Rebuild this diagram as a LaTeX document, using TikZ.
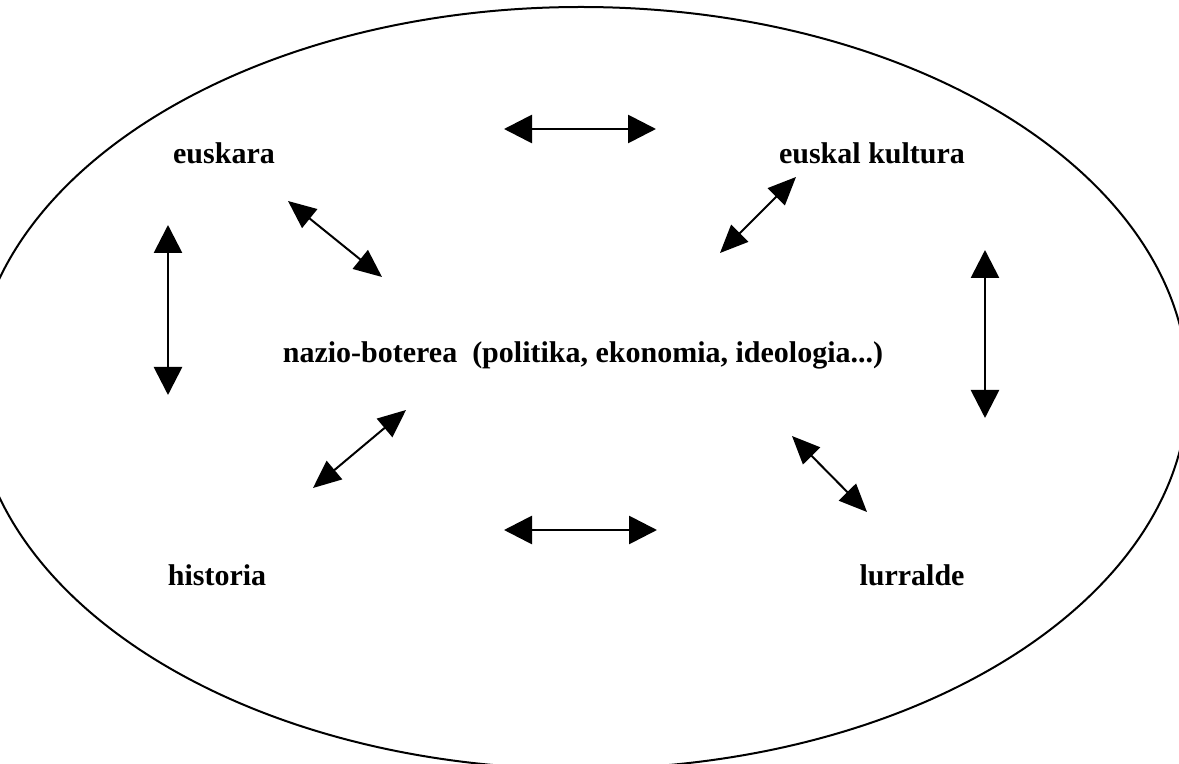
\documentclass[tikz,border=0pt]{standalone}
\usepackage{fontspec}
\setmainfont{Liberation Serif}
\usetikzlibrary{arrows.meta}
\begin{document}
\begin{tikzpicture}[x=0.5pt,y=-0.5pt,
  lbl/.style={font=\fontsize{15}{17}\selectfont\bfseries, inner sep=0pt},
  bigarr/.style={line width=1.4pt, {Triangle[length=14pt,width=14pt]}-{Triangle[length=14pt,width=14pt]}},
  diagarr/.style={line width=1pt, {Triangle[length=14pt,width=12pt]}-{Triangle[length=14pt,width=12pt]}},
  ring/.style={line width=1pt}]
\useasboundingbox (0,0) rectangle (1179,764);
\clip (0,0) rectangle (1179,764);
\draw[ring] (581,388) ellipse [x radius=607, y radius=381];

\node[lbl] (eus) at (224,153) {euskara};
\node[lbl] (kul) at (872,153) {euskal kultura};
\node[lbl] (naz) at (583,355) {nazio-boterea\ \ (politika, ekonomia, ideologia...)};
\node[lbl] (his) at (217,575) {historia};
\node[lbl] (lur) at (912,575) {lurralde};

\coordinate (t1) at (504,129); \coordinate (t2) at (656,129);
\coordinate (b1) at (504,530); \coordinate (b2) at (657,530);
\coordinate (l1) at (168,225); \coordinate (l2) at (168,395);
\coordinate (r1) at (985,250); \coordinate (r2) at (985,418);
\coordinate (d1a) at (288,201); \coordinate (d1b) at (382,277);
\coordinate (d2a) at (796,177); \coordinate (d2b) at (720,253);
\coordinate (d3a) at (313,488); \coordinate (d3b) at (406,410);
\coordinate (d4a) at (792,436); \coordinate (d4b) at (867,512);

\draw[bigarr] (t1) -- (t2);
\draw[bigarr] (b1) -- (b2);
\draw[bigarr] (l1) -- (l2);
\draw[bigarr] (r1) -- (r2);
\draw[diagarr] (d1a) -- (d1b);
\draw[diagarr] (d2a) -- (d2b);
\draw[diagarr] (d3a) -- (d3b);
\draw[diagarr] (d4a) -- (d4b);
\end{tikzpicture}
\end{document}
